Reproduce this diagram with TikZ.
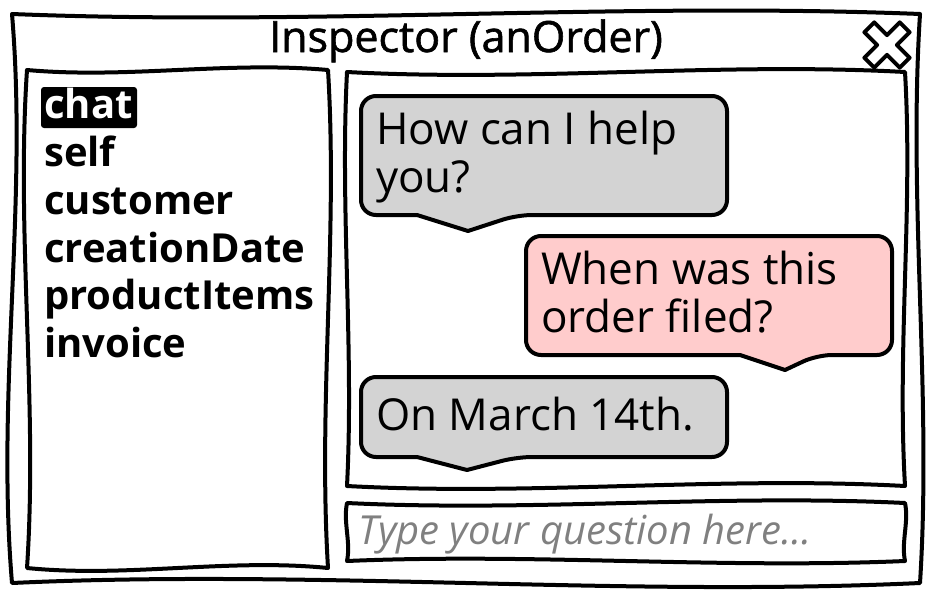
\documentclass[tikz,border=0pt]{standalone}
\usepackage{fontspec}
\setmainfont{Open Sans}
\usetikzlibrary{calc}
\definecolor{bubgray}{RGB}{211,211,211}
\definecolor{bubpink}{RGB}{255,204,204}
\definecolor{hintgray}{RGB}{128,128,128}
% sketchy rectangle: #1 style, #2 x1, #3 y1, #4 x2, #5 y2, #6..#9 wave amplitudes (top,right,bottom,left)
\newcommand\skrect[9]{%
  \pgfmathsetmacro\skax{#2+(#4-#2)/3}%
  \pgfmathsetmacro\skbx{#2+2*(#4-#2)/3}%
  \pgfmathsetmacro\skay{#3+(#5-#3)/3}%
  \pgfmathsetmacro\skby{#3+2*(#5-#3)/3}%
  \draw[#1] (#2,#3) .. controls (\skax,#3+#6) and (\skbx,#3-#6) .. (#4,#3)
     .. controls (#4+#7,\skay) and (#4-#7,\skby) .. (#4,#5)
     .. controls (\skbx,#5+#8) and (\skax,#5-#8) .. (#2,#5)
     .. controls (#2+#9,\skby) and (#2-#9,\skay) .. cycle;
}
\tikzset{
  frame/.style={line width=4pt, line join=round, line cap=round},
  bubble/.style={line width=4pt, line join=round, rounded corners=15pt},
  titletext/.style={font=\fontsize{43}{50}\selectfont\addfontfeatures{FakeBold=1.4}, anchor=base},
  listtext/.style={font=\fontsize{40}{48}\selectfont\bfseries, anchor=base west, inner sep=0pt},
  chattext/.style={font=\fontsize{44}{52}\selectfont, anchor=base west, inner sep=0pt},
  hinttext/.style={font=\fontsize{40}{48}\selectfont\itshape, text=hintgray, anchor=base west, inner sep=0pt},
}
\begin{document}
\begin{tikzpicture}[x=1pt,y=-1pt]
\useasboundingbox (0,0) rectangle (931,597);
% window
\skrect{frame, fill=white}{12}{14}{920}{583}{12}{-12}{14}{-16}
\node[titletext] (title) at (466,52) {Inspector (anOrder)};
% close button
\begin{scope}[shift={(887,45)}, rotate=45]
  \draw[frame, fill=white] (7,7) -- (7,25) -- (-7,25) -- (-7,7) -- (-25,7) -- (-25,-7)
    -- (-7,-7) -- (-7,-25) -- (7,-25) -- (7,-7) -- (25,-7) -- (25,7) -- cycle;
\end{scope}
% panels
\skrect{frame}{27}{70}{328}{568}{9}{10}{-10}{11}
\skrect{frame}{347}{72}{905}{486}{10}{8}{-10}{7}
\skrect{frame}{347}{503}{905}{561}{9}{4}{8}{4}
% list
\fill[rounded corners=3pt] (41,87) rectangle (137,128);
\node[listtext, text=white] (chat) at (44,118) {chat};
\node[listtext] (self) at (44,166) {self};
\node[listtext] (customer) at (44,214) {customer};
\node[listtext] (creationDate) at (44,262) {creationDate};
\node[listtext] (productItems) at (44,309) {productItems};
\node[listtext] (invoice) at (44,357) {invoice};
% bubbles
\draw[bubble, fill=bubgray] (361,96) -- (727,96) -- (727,215) -- (517,215) [sharp corners] -- (468,231) -- (417,215) [rounded corners=15pt] -- (361,215) -- cycle;
\node[chattext] (q1a) at (376,144) {How can I help};
\node[chattext] (q1b) at (376,192) {you?};
\draw[bubble, fill=bubpink] (526,236) -- (892,236) -- (892,355) -- (817,355) [sharp corners] -- (785,370) -- (740,355) [rounded corners=15pt] -- (526,355) -- cycle;
\node[chattext] (q2a) at (541,284) {When was this};
\node[chattext] (q2b) at (541,332) {order filed?};
\draw[bubble, fill=bubgray] (361,377) -- (727,377) -- (727,457) -- (517,457) [sharp corners] -- (467,470) -- (417,457) [rounded corners=15pt] -- (361,457) -- cycle;
\node[chattext] (a1) at (376,430) {On March 14th.};
% input
\node[hinttext] (hint) at (358,544) {Type your question here...};
\end{tikzpicture}
\end{document}
